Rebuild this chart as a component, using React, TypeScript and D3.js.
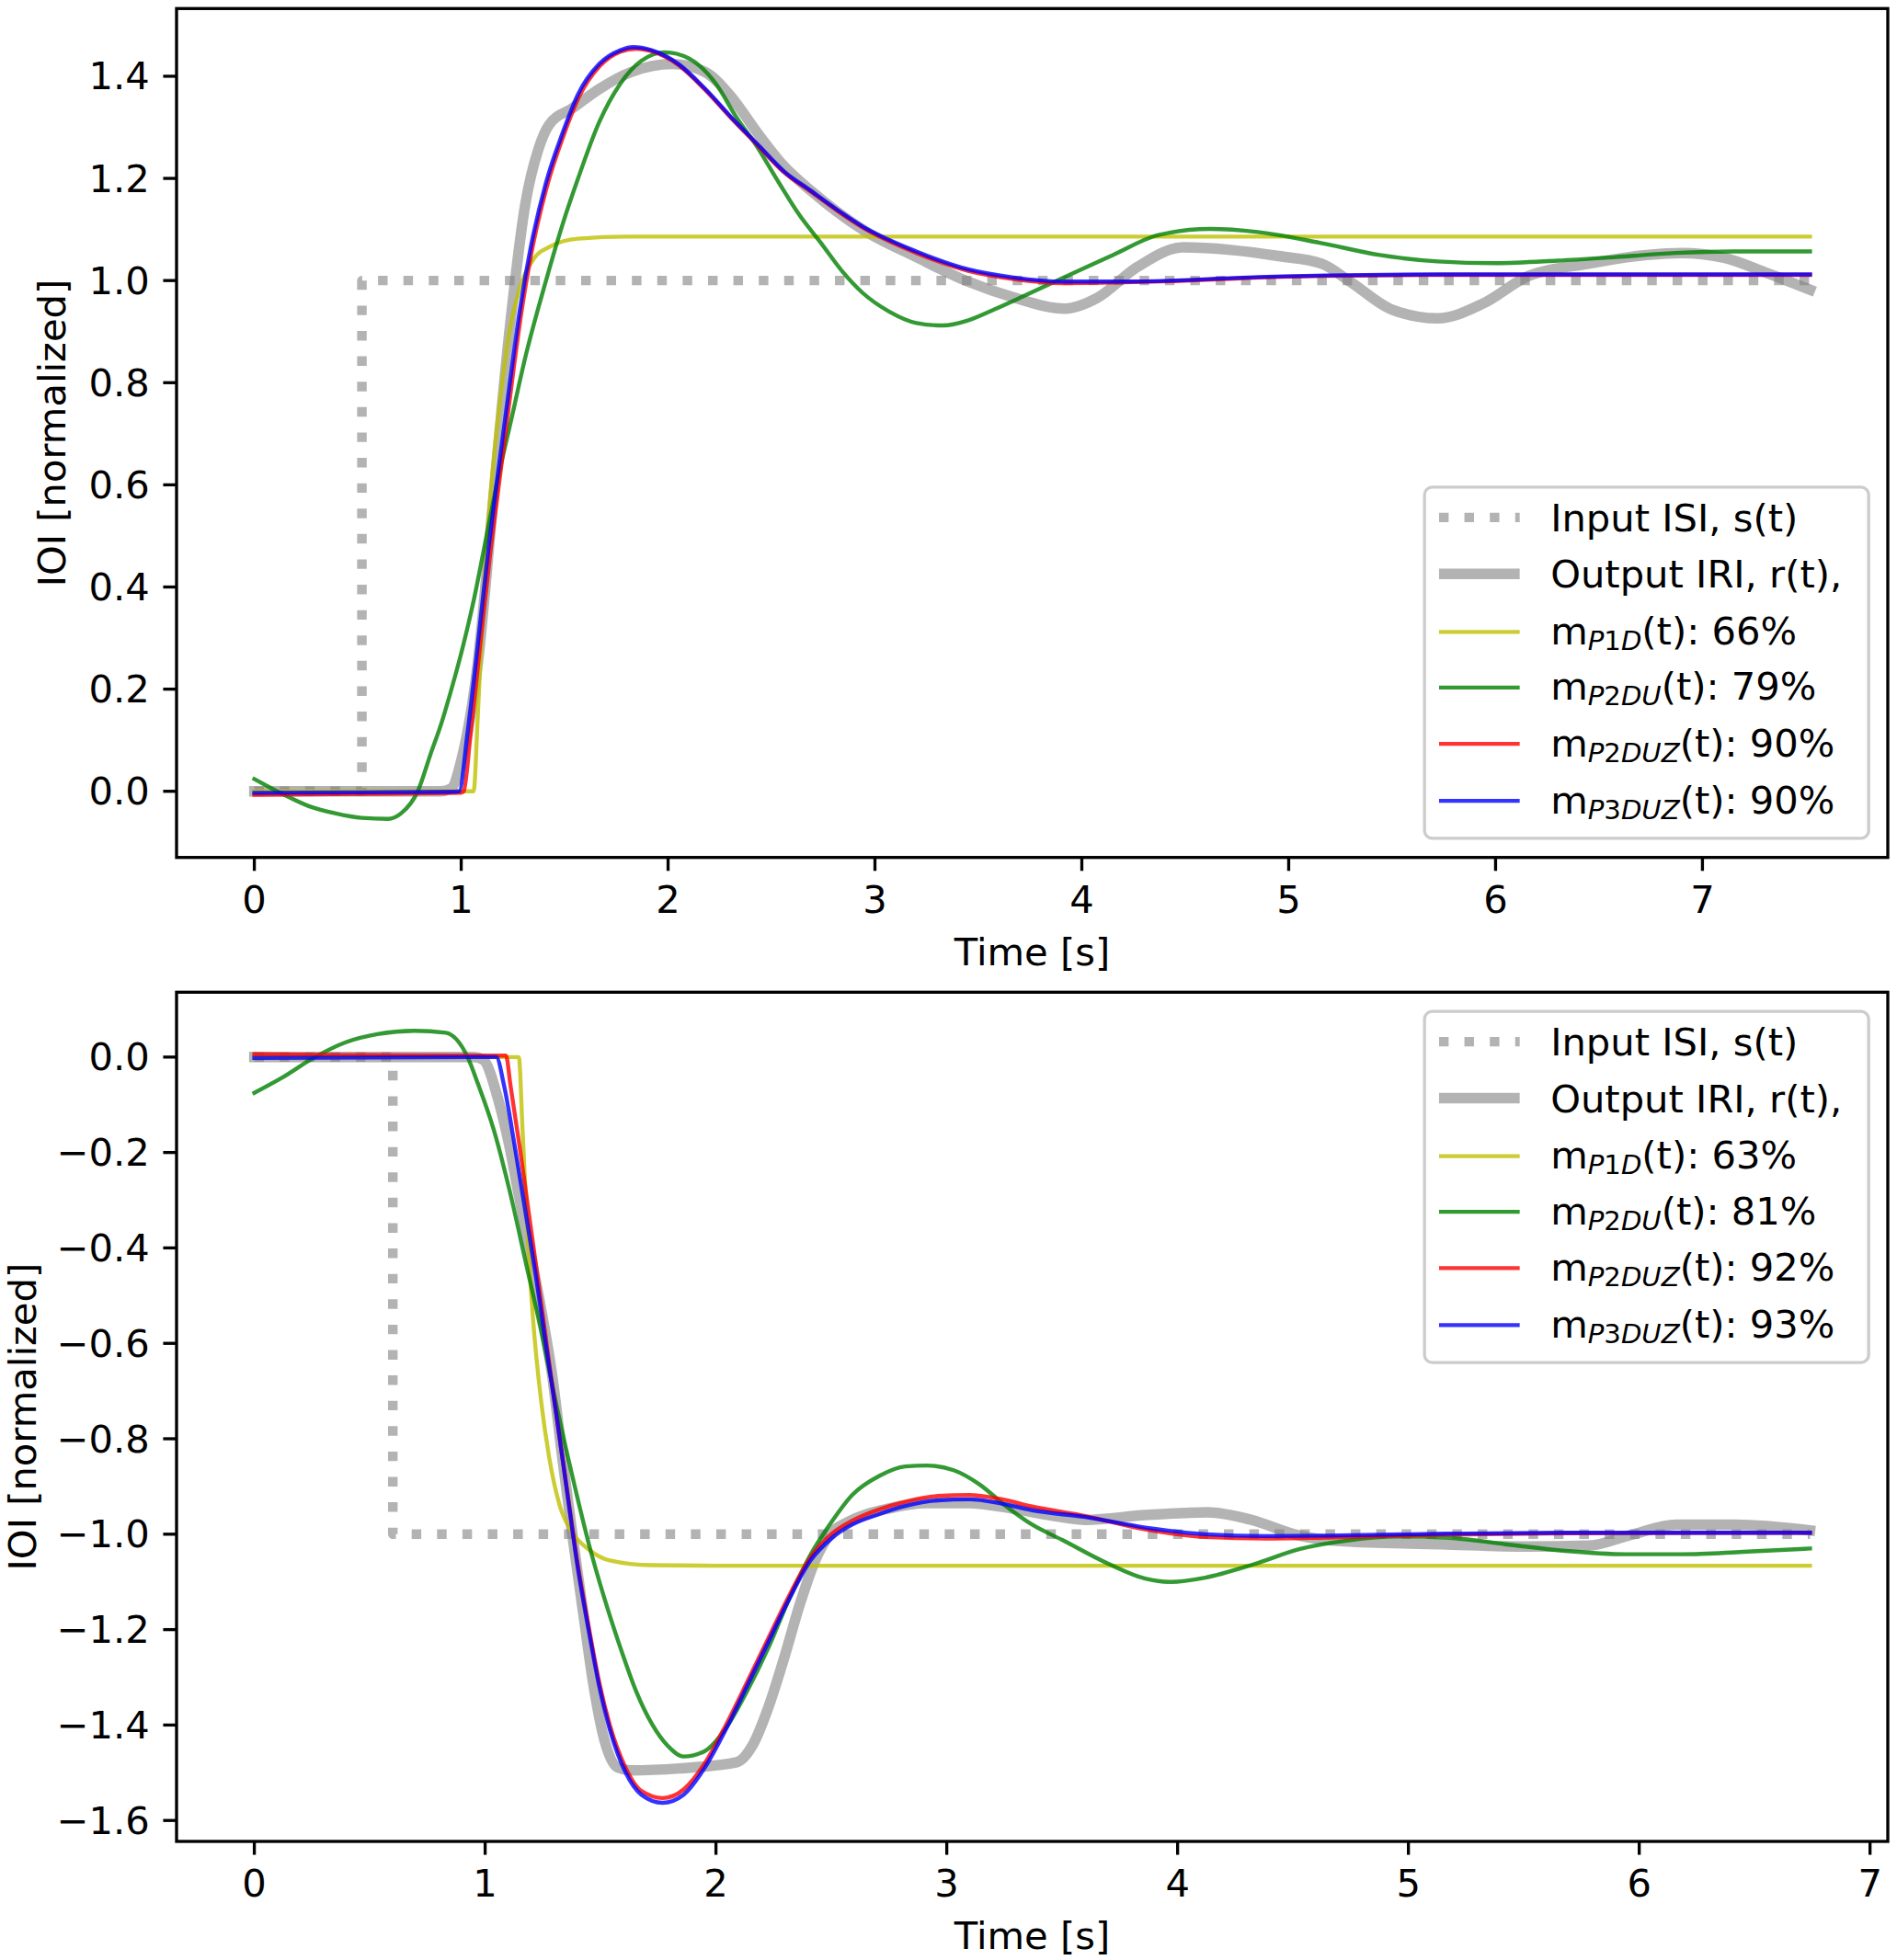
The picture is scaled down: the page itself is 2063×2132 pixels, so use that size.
import React, { useLayoutEffect } from "react";
import * as d3 from "d3";

type Pt = [number, number];

// ---------- DATA ----------
const xTicks = [0, 1, 2, 3, 4, 5, 6, 7];
const topYTicks = [0, 0.2, 0.4, 0.6, 0.8, 1.0, 1.2, 1.4];
const bottomYTicks = [-1.6, -1.4, -1.2, -1.0, -0.8, -0.6, -0.4, -0.2, 0.0];

const topTMax = 7.52;
const bottomTMax = 6.74;

const inputLabel = "Input ISI, s(t)";
const outputLabel = "Output IRI, r(t),";
const modelSubs = ["P1D", "P2DU", "P2DUZ", "P3DUZ"];
const topScores = ["66%", "79%", "90%", "90%"];
const bottomScores = ["63%", "81%", "92%", "93%"];

const topInput: Pt[] = [[0, 0], [0.52, 0], [0.52, 1], [7.52, 1]];
const topOutput: Pt[] = [
  [0, 0], [0.5, 0], [0.9, 0], [0.95, 0.005], [1.0, 0.06], [1.08, 0.25], [1.157, 0.58], [1.233, 0.9],
  [1.31, 1.15], [1.373, 1.257], [1.425, 1.305], [1.54, 1.338], [1.667, 1.375], [1.82, 1.408],
  [2.02, 1.424], [2.18, 1.408], [2.305, 1.36], [2.43, 1.29], [2.56, 1.224], [2.69, 1.176],
  [2.94, 1.1], [3.2, 1.046], [3.45, 0.998], [3.67, 0.967], [3.92, 0.945], [4.07, 0.965],
  [4.27, 1.027], [4.49, 1.065], [4.72, 1.06], [4.95, 1.048], [5.16, 1.033], [5.3, 0.997],
  [5.5, 0.943], [5.72, 0.926], [5.94, 0.955], [6.16, 1.009], [6.45, 1.033], [6.73, 1.05],
  [6.9, 1.054], [7.1, 1.045], [7.31, 1.015], [7.52, 0.982],
];
const topP1D: Pt[] = [
  [0, 0], [1.06, 0], [1.08, 0.146], [1.105, 0.36], [1.13, 0.52], [1.157, 0.65], [1.195, 0.79],
  [1.233, 0.9], [1.284, 0.987], [1.348, 1.041], [1.437, 1.068], [1.565, 1.082], [1.8, 1.086],
  [7.52, 1.086],
];
const topP2DU: Pt[] = [
  [0, 0.024], [0.135, -0.005], [0.263, -0.029], [0.39, -0.043], [0.518, -0.052], [0.646, -0.054],
  [0.71, -0.043], [0.79, 0.0], [0.852, 0.073], [0.904, 0.133], [0.948, 0.193], [1.008, 0.283],
  [1.06, 0.373], [1.119, 0.493], [1.178, 0.613], [1.245, 0.733], [1.31, 0.85], [1.41, 1.0],
  [1.49, 1.11], [1.565, 1.2], [1.667, 1.31], [1.77, 1.386],
  [1.87, 1.43], [1.985, 1.447], [2.1, 1.435], [2.23, 1.386], [2.33, 1.32], [2.43, 1.262],
  [2.535, 1.192], [2.637, 1.127], [2.74, 1.073], [2.84, 1.019], [2.94, 0.976], [3.07, 0.939],
  [3.2, 0.917], [3.33, 0.912], [3.45, 0.922], [3.58, 0.944], [3.7, 0.966], [3.88, 1.0],
  [4.15, 1.05], [4.37, 1.089], [4.62, 1.101], [4.85, 1.095], [5.15, 1.074], [5.44, 1.05],
  [5.72, 1.0375], [6.0, 1.034], [6.3, 1.039], [6.58, 1.046], [6.87, 1.054], [7.15, 1.057],
  [7.52, 1.057],
];
const topP2DUZ: Pt[] = [
  [0, -0.007], [0.5, -0.005], [1.0, -0.003], [1.012, 0.0], [1.045, 0.11], [1.09, 0.28],
  [1.14, 0.465], [1.19, 0.625], [1.24, 0.785], [1.29, 0.935], [1.34, 1.055], [1.415, 1.185],
  [1.495, 1.284], [1.57, 1.36], [1.67, 1.42], [1.77, 1.448], [1.846, 1.454], [1.92, 1.449],
  [2.05, 1.422], [2.18, 1.373], [2.305, 1.318], [2.43, 1.266], [2.56, 1.212], [2.69, 1.174],
  [2.82, 1.136], [2.94, 1.104], [3.2, 1.054], [3.45, 1.019], [3.67, 1.003], [3.91, 0.995],
  [4.16, 0.996], [4.45, 0.999], [4.74, 1.004], [5.18, 1.009], [5.75, 1.011], [7.52, 1.011],
];
const topP3DUZ: Pt[] = [
  [0, -0.003], [0.5, -0.002], [0.95, -0.001], [0.99, 0.0], [1.03, 0.113], [1.08, 0.286],
  [1.13, 0.47], [1.18, 0.63], [1.233, 0.793], [1.284, 0.944], [1.335, 1.063], [1.41, 1.192],
  [1.49, 1.289], [1.565, 1.365], [1.667, 1.424], [1.77, 1.451], [1.83, 1.457], [1.92, 1.451],
  [2.05, 1.424], [2.18, 1.375], [2.305, 1.32], [2.43, 1.268], [2.56, 1.214], [2.69, 1.176],
  [2.82, 1.138], [2.94, 1.106], [3.2, 1.057], [3.45, 1.022], [3.67, 1.006], [3.91, 0.998],
  [4.16, 0.998], [4.45, 1.0], [4.74, 1.005], [5.18, 1.01], [5.75, 1.012], [7.52, 1.012],
];

const bottomInput: Pt[] = [[0, 0], [0.6, 0], [0.6, -1], [6.74, -1]];
const bottomOutput: Pt[] = [
  [0, 0], [0.5, 0], [0.95, 0], [0.99, -0.005], [1.06, -0.095], [1.105, -0.186], [1.15, -0.3],
  [1.197, -0.415], [1.243, -0.53], [1.29, -0.666], [1.334, -0.838], [1.38, -1.009], [1.426, -1.169],
  [1.47, -1.318], [1.517, -1.432], [1.574, -1.489], [1.63, -1.495], [1.84, -1.491], [2.09, -1.478],
  [2.158, -1.443], [2.227, -1.363], [2.295, -1.26], [2.364, -1.146], [2.43, -1.055], [2.5, -0.997],
  [2.57, -0.975], [2.75, -0.946], [2.91, -0.935], [3.096, -0.935], [3.28, -0.946], [3.48, -0.963],
  [3.6, -0.97], [3.86, -0.96], [4.13, -0.954], [4.32, -0.97], [4.52, -1.002], [4.72, -1.015],
  [5.14, -1.021], [5.52, -1.026], [5.78, -1.024], [5.96, -1.002], [6.16, -0.98], [6.42, -0.98],
  [6.74, -0.992],
];
const bottomP1D: Pt[] = [
  [0, 0], [1.146, 0], [1.162, -0.152], [1.185, -0.38], [1.208, -0.552], [1.243, -0.723],
  [1.277, -0.838], [1.323, -0.94], [1.38, -0.998], [1.449, -1.032], [1.54, -1.055], [1.72, -1.065],
  [2.0, -1.066], [6.74, -1.066],
];
const bottomP2DU: Pt[] = [
  [0, -0.075], [0.121, -0.043], [0.259, -0.001], [0.396, 0.031], [0.533, 0.048], [0.693, 0.055],
  [0.83, 0.051], [0.876, 0.037], [0.922, 0.002], [0.968, -0.055], [1.037, -0.152], [1.105, -0.278],
  [1.174, -0.426], [1.243, -0.575], [1.311, -0.735], [1.38, -0.883], [1.449, -1.02], [1.517, -1.135],
  [1.586, -1.238], [1.654, -1.329], [1.723, -1.398], [1.79, -1.443], [1.86, -1.466], [1.95, -1.455],
  [2.04, -1.409], [2.135, -1.329], [2.227, -1.238], [2.318, -1.135], [2.41, -1.043], [2.5, -0.975],
  [2.59, -0.918], [2.707, -0.878], [2.82, -0.858], [2.913, -0.856], [3.03, -0.866], [3.14, -0.895],
  [3.256, -0.941], [3.37, -0.98], [3.5, -1.012], [3.7, -1.062], [3.86, -1.093], [3.97, -1.1],
  [4.12, -1.091], [4.33, -1.063], [4.53, -1.031], [4.74, -1.013], [4.95, -1.005], [5.16, -1.007],
  [5.42, -1.021], [5.68, -1.035], [5.94, -1.042], [6.19, -1.042], [6.45, -1.037], [6.74, -1.03],
];
const bottomP2DUZ: Pt[] = [
  [0, 0.006], [0.5, 0.004], [1.09, 0.003], [1.11, -0.06], [1.15, -0.19], [1.19, -0.33],
  [1.23, -0.47], [1.27, -0.615], [1.311, -0.758], [1.357, -0.915], [1.4, -1.06], [1.449, -1.195],
  [1.494, -1.31], [1.54, -1.4], [1.609, -1.49], [1.677, -1.538], [1.769, -1.553], [1.86, -1.535],
  [1.952, -1.48], [2.043, -1.4], [2.135, -1.31], [2.227, -1.218], [2.318, -1.128], [2.41, -1.048],
  [2.5, -1.0], [2.59, -0.972], [2.707, -0.948], [2.82, -0.932], [2.96, -0.92], [3.096, -0.918],
  [3.23, -0.926], [3.37, -0.942], [3.6, -0.962], [3.86, -0.99], [4.12, -1.006], [4.38, -1.009],
  [4.64, -1.007], [5.16, -1.001], [5.68, -0.998], [6.74, -0.997],
];
const bottomP3DUZ: Pt[] = [
  [0, -0.002], [0.5, -0.001], [1.048, 0], [1.082, -0.06], [1.128, -0.186], [1.174, -0.323],
  [1.22, -0.46], [1.265, -0.609], [1.311, -0.758], [1.357, -0.918], [1.4, -1.066], [1.449, -1.203],
  [1.494, -1.318], [1.54, -1.409], [1.609, -1.5], [1.677, -1.546], [1.769, -1.563], [1.86, -1.546],
  [1.952, -1.489], [2.043, -1.409], [2.135, -1.318], [2.227, -1.226], [2.318, -1.135], [2.41, -1.055],
  [2.5, -1.009], [2.59, -0.98], [2.707, -0.958], [2.82, -0.941], [2.96, -0.929], [3.096, -0.927],
  [3.23, -0.935], [3.37, -0.95], [3.6, -0.964], [3.86, -0.986], [4.12, -1.0], [4.38, -1.004],
  [4.64, -1.003], [5.16, -0.999], [5.68, -0.997], [6.74, -0.997],
];

// ---------- STYLE / LAYOUT ----------
const W = 2063;
const H = 2132;
const PT = 300 / 72;
const FS = 10 * PT;
const FONT = "DejaVu Sans";
const AX_LEFT = 192;
const AX_RIGHT = 2053;

const MODEL_COLORS = ["#bfbf00", "#008000", "#ff0000", "#0000ff"];
const GRAY = "#808080";

type PanelProps = {
  top: number;
  bottom: number;
  tmax: number;
  input: Pt[];
  output: Pt[];
  models: Pt[][];
  yTicks: number[];
  scores: string[];
  legendLoc: "lower right" | "upper right";
  ylabelX: number;
};

const fmtY = (v: number) => {
  const s = Math.abs(v).toFixed(1);
  return v < -1e-9 ? "\u2212" + s : s;
};

function MathLabel({ x, y, sub, score }: { x: number; y: number; sub: string; score: string }) {
  const parts = sub.match(/[A-Za-z]+|[0-9]+/g) || [];
  const subFs = FS * 0.7;
  const shift = 6;
  return (
    <text x={x} y={y} fontSize={FS} fontFamily={FONT} fill="#000">
      m
      {parts.map((p, i) => (
        <tspan
          key={i}
          dy={i === 0 ? shift : undefined}
          fontSize={subFs}
          fontStyle={/[A-Za-z]/.test(p) ? "italic" : "normal"}
        >
          {p}
        </tspan>
      ))}
      <tspan dy={-shift} fontSize={FS}>
        {"(t): " + score}
      </tspan>
    </text>
  );
}

function Panel(p: PanelProps) {
  const x = d3
    .scaleLinear()
    .domain([-0.05 * p.tmax, 1.05 * p.tmax])
    .range([AX_LEFT, AX_RIGHT]);
  const all = [p.input, p.output, ...p.models].flat();
  const [ymin, ymax] = d3.extent(all, (d) => d[1]) as [number, number];
  const pad = (ymax - ymin) * 0.05;
  const y = d3.scaleLinear().domain([ymin - pad, ymax + pad]).range([p.bottom, p.top]);

  const smooth = d3
    .line<Pt>()
    .x((d) => x(d[0]))
    .y((d) => y(d[1]))
    .curve(d3.curveMonotoneX);
  const straight = d3
    .line<Pt>()
    .x((d) => x(d[0]))
    .y((d) => y(d[1]));

  const tickLen = 3.5 * PT;
  const tickW = 0.8 * PT;
  const pad2 = 3.5 * PT;

  // legend
  const legW = 483;
  const legH = 382;
  const bpad = 0.5 * FS;
  const legX = AX_RIGHT - bpad - legW;
  const legY = p.legendLoc === "lower right" ? p.bottom - bpad - legH : p.top + bpad;
  const rowOff = [33, 94.4, 157.5, 218, 279.2, 341.2];
  const hx0 = legX + 15.8;
  const hx1 = legX + 103.5;
  const tx = legX + 137;

  const clipId = `clip-${p.top.toFixed(0)}`;

  return (
    <g>
      <defs>
        <clipPath id={clipId}>
          <rect x={AX_LEFT} y={p.top} width={AX_RIGHT - AX_LEFT} height={p.bottom - p.top} />
        </clipPath>
      </defs>
      <g clipPath={`url(#${clipId})`}>
        <path
          d={straight(p.input) || ""}
          fill="none"
          stroke={GRAY}
          strokeOpacity={0.6}
          strokeWidth={2.5 * PT}
          strokeDasharray={`${2.5 * PT} ${1.65 * 2.5 * PT}`}
          strokeLinecap="butt"
          strokeLinejoin="round"
        />
        <path
          d={smooth(p.output) || ""}
          fill="none"
          stroke={GRAY}
          strokeOpacity={0.6}
          strokeWidth={2.75 * PT}
          strokeLinecap="square"
          strokeLinejoin="round"
        />
        {p.models.map((m, i) => (
          <path
            key={i}
            d={smooth(m) || ""}
            fill="none"
            stroke={MODEL_COLORS[i]}
            strokeOpacity={0.8}
            strokeWidth={1.05 * PT}
            strokeLinecap="square"
            strokeLinejoin="round"
          />
        ))}
      </g>

      {/* spines */}
      <rect
        x={AX_LEFT}
        y={p.top}
        width={AX_RIGHT - AX_LEFT}
        height={p.bottom - p.top}
        fill="none"
        stroke="#000"
        strokeWidth={tickW}
      />

      {/* x ticks */}
      {xTicks
        .filter((t) => x(t) <= AX_RIGHT + 1)
        .map((t) => (
          <g key={"x" + t}>
            <line x1={x(t)} x2={x(t)} y1={p.bottom} y2={p.bottom + tickLen} stroke="#000" strokeWidth={tickW} />
            <text
              x={x(t)}
              y={p.bottom + 60}
              fontSize={FS}
              fontFamily={FONT}
              textAnchor="middle"
              fill="#000"
            >
              {String(t)}
            </text>
          </g>
        ))}
      {/* y ticks */}
      {p.yTicks.map((v) => (
        <g key={"y" + v}>
          <line x1={AX_LEFT - tickLen} x2={AX_LEFT} y1={y(v)} y2={y(v)} stroke="#000" strokeWidth={tickW} />
          <text
            x={AX_LEFT - tickLen - pad2}
            y={y(v) + 14.5}
            fontSize={FS}
            fontFamily={FONT}
            textAnchor="end"
            fill="#000"
          >
            {fmtY(v)}
          </text>
        </g>
      ))}

      {/* axis labels */}
      <text
        x={(AX_LEFT + AX_RIGHT) / 2}
        y={p.bottom + 117}
        fontSize={FS}
        fontFamily={FONT}
        textAnchor="middle"
        fill="#000"
      >
        Time [s]
      </text>
      <text
        transform={`translate(${p.ylabelX},${(p.top + p.bottom) / 2}) rotate(-90)`}
        fontSize={FS}
        fontFamily={FONT}
        textAnchor="middle"
        fill="#000"
      >
        IOI [normalized]
      </text>

      {/* legend */}
      <rect
        x={legX}
        y={legY}
        width={legW}
        height={legH}
        rx={0.2 * FS}
        ry={0.2 * FS}
        fill="#ffffff"
        fillOpacity={0.8}
        stroke="#cccccc"
        strokeWidth={0.8 * PT}
      />
      <line
        x1={hx0}
        x2={hx1}
        y1={legY + rowOff[0]}
        y2={legY + rowOff[0]}
        stroke={GRAY}
        strokeOpacity={0.6}
        strokeWidth={2.5 * PT}
        strokeDasharray={`${2.5 * PT} ${1.65 * 2.5 * PT}`}
      />
      <text x={tx} y={legY + rowOff[0] + 15} fontSize={FS} fontFamily={FONT} fill="#000">
        {inputLabel}
      </text>
      <line
        x1={hx0}
        x2={hx1}
        y1={legY + rowOff[1]}
        y2={legY + rowOff[1]}
        stroke={GRAY}
        strokeOpacity={0.6}
        strokeWidth={2.75 * PT}
      />
      <text x={tx} y={legY + rowOff[1] + 15} fontSize={FS} fontFamily={FONT} fill="#000">
        {outputLabel}
      </text>
      {modelSubs.map((s, i) => (
        <g key={s}>
          <line
            x1={hx0}
            x2={hx1}
            y1={legY + rowOff[i + 2]}
            y2={legY + rowOff[i + 2]}
            stroke={MODEL_COLORS[i]}
            strokeOpacity={0.8}
            strokeWidth={1.05 * PT}
          />
          <MathLabel x={tx} y={legY + rowOff[i + 2] + 13.5} sub={s} score={p.scores[i]} />
        </g>
      ))}
    </g>
  );
}

export default function App() {
  useLayoutEffect(() => {
    document.body.style.margin = "0";
  }, []);
  return (
    <svg width={W} height={H} viewBox={`0 0 ${W} ${H}`} style={{ display: "block", background: "#fff" }}>
      <rect x={0} y={0} width={W} height={H} fill="#fff" />
      <Panel
        top={9.3}
        bottom={932.7}
        tmax={topTMax}
        input={topInput}
        output={topOutput}
        models={[topP1D, topP2DU, topP2DUZ, topP3DUZ]}
        yTicks={topYTicks}
        scores={topScores}
        legendLoc="lower right"
        ylabelX={71}
      />
      <Panel
        top={1079.3}
        bottom={2003}
        tmax={bottomTMax}
        input={bottomInput}
        output={bottomOutput}
        models={[bottomP1D, bottomP2DU, bottomP2DUZ, bottomP3DUZ]}
        yTicks={bottomYTicks}
        scores={bottomScores}
        legendLoc="upper right"
        ylabelX={38.5}
      />
    </svg>
  );
}
